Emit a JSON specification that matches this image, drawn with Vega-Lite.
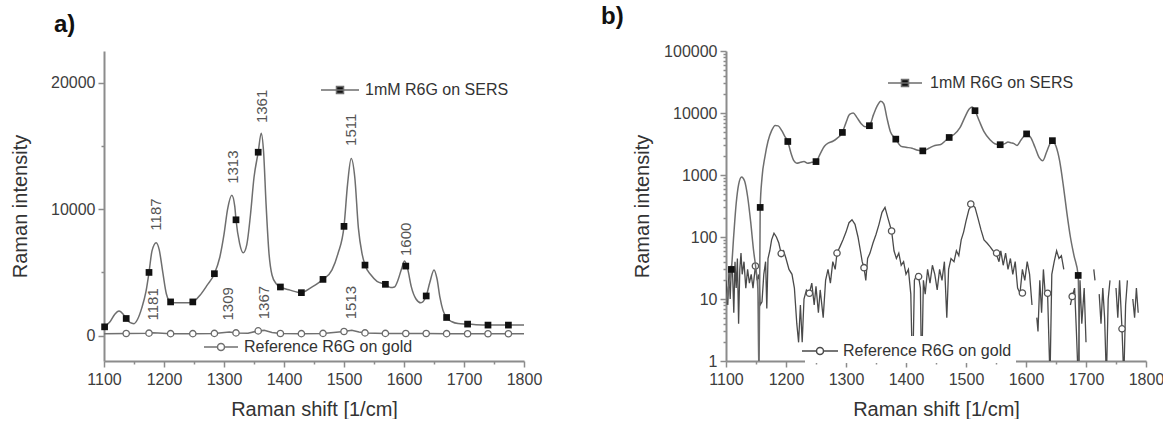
{
  "$schema": "https://vega.github.io/schema/vega-lite/v6.json",
  "background": "white",
  "padding": {"left": 10, "top": 5, "right": 5, "bottom": 0},
  "spacing": 59,
  "config": {
    "view": {"stroke": null},
    "font": "Liberation Sans",
    "axis": {
      "grid": false,
      "domainColor": "#8c8c8c",
      "domainWidth": 2,
      "tickColor": "#8c8c8c",
      "tickWidth": 1.5,
      "labelFont": "Liberation Sans",
      "labelFontSize": 16,
      "labelColor": "#3d3d3d",
      "labelFlush": false,
      "labelOverlap": false,
      "titleFont": "Liberation Sans",
      "titleFontSize": 20,
      "titleFontWeight": "normal",
      "titleColor": "#333333"
    },
    "title": {"fontSize": 24, "fontWeight": "bold", "anchor": "start", "color": "#111111", "frame": "group", "font": "Liberation Sans"},
    "legend": {"labelFont": "Liberation Sans", "labelFontSize": 16, "labelColor": "#333333", "labelLimit": 0}
  },
  "datasets": {
    "a_sers": [
      {"x":1100,"y":700},{"x":1110,"y":1100},{"x":1118,"y":1700},{"x":1125,"y":1950},{"x":1132,"y":1700},{"x":1137,"y":1360},{"x":1143,"y":1050},{"x":1150,"y":950},{"x":1156,"y":1300},{"x":1163,"y":2200},{"x":1170,"y":3500},{"x":1175,"y":5000},{"x":1180,"y":6700},{"x":1187,"y":7350},{"x":1192,"y":6800},{"x":1198,"y":5000},{"x":1204,"y":3300},{"x":1211,"y":2670},{"x":1222,"y":2600},{"x":1236,"y":2600},{"x":1248,"y":2670},{"x":1260,"y":3200},{"x":1272,"y":4000},{"x":1284,"y":4900},{"x":1293,"y":6200},{"x":1300,"y":8000},{"x":1306,"y":10000},{"x":1313,"y":11100},{"x":1318,"y":10200},{"x":1320,"y":9160},{"x":1326,"y":7300},{"x":1332,"y":6550},{"x":1338,"y":7200},{"x":1344,"y":9500},{"x":1350,"y":12500},{"x":1357,"y":14500},{"x":1362,"y":16000},{"x":1366,"y":14500},{"x":1370,"y":10500},{"x":1375,"y":6500},{"x":1380,"y":4800},{"x":1387,"y":4100},{"x":1394,"y":3850},{"x":1410,"y":3600},{"x":1429,"y":3400},{"x":1445,"y":3800},{"x":1465,"y":4450},{"x":1480,"y":5200},{"x":1490,"y":6500},{"x":1500,"y":8640},{"x":1506,"y":12000},{"x":1512,"y":14000},{"x":1518,"y":12500},{"x":1524,"y":8500},{"x":1530,"y":6500},{"x":1535,"y":5580},{"x":1545,"y":4800},{"x":1555,"y":4300},{"x":1569,"y":4060},{"x":1578,"y":3800},{"x":1584,"y":3850},{"x":1590,"y":4400},{"x":1596,"y":5300},{"x":1601,"y":5900},{"x":1606,"y":5300},{"x":1612,"y":3900},{"x":1620,"y":2900},{"x":1628,"y":2600},{"x":1637,"y":3140},{"x":1643,"y":4200},{"x":1650,"y":5200},{"x":1655,"y":4500},{"x":1660,"y":3000},{"x":1665,"y":2000},{"x":1671,"y":1440},{"x":1680,"y":1100},{"x":1690,"y":960},{"x":1706,"y":916},{"x":1720,"y":870},{"x":1740,"y":840},{"x":1760,"y":840},{"x":1774,"y":840},{"x":1790,"y":840},{"x":1800,"y":840}
    ],
    "a_sers_pts": [
      {"x":1101,"y":700},{"x":1137,"y":1360},{"x":1175,"y":5000},{"x":1211,"y":2670},{"x":1248,"y":2670},{"x":1284,"y":4900},{"x":1320,"y":9160},{"x":1357,"y":14500},{"x":1394,"y":3850},{"x":1429,"y":3400},{"x":1465,"y":4450},{"x":1500,"y":8640},{"x":1535,"y":5580},{"x":1569,"y":4060},{"x":1603,"y":5500},{"x":1637,"y":3140},{"x":1671,"y":1440},{"x":1706,"y":916},{"x":1740,"y":838},{"x":1774,"y":838}
    ],
    "a_ref": [
      {"x":1100,"y":160},{"x":1137,"y":170},{"x":1175,"y":200},{"x":1181,"y":230},{"x":1190,"y":210},{"x":1211,"y":160},{"x":1248,"y":160},{"x":1284,"y":180},{"x":1309,"y":300},{"x":1320,"y":220},{"x":1340,"y":200},{"x":1357,"y":380},{"x":1367,"y":420},{"x":1380,"y":260},{"x":1394,"y":170},{"x":1429,"y":160},{"x":1465,"y":180},{"x":1500,"y":330},{"x":1513,"y":420},{"x":1525,"y":300},{"x":1535,"y":220},{"x":1569,"y":180},{"x":1603,"y":170},{"x":1637,"y":170},{"x":1671,"y":160},{"x":1706,"y":150},{"x":1740,"y":150},{"x":1774,"y":150},{"x":1800,"y":150}
    ],
    "a_ref_pts": [
      {"x":1137,"y":170},{"x":1175,"y":200},{"x":1211,"y":160},{"x":1248,"y":160},{"x":1284,"y":180},{"x":1320,"y":220},{"x":1357,"y":380},{"x":1394,"y":170},{"x":1429,"y":160},{"x":1465,"y":180},{"x":1500,"y":330},{"x":1535,"y":220},{"x":1569,"y":180},{"x":1603,"y":170},{"x":1637,"y":170},{"x":1671,"y":160},{"x":1706,"y":150},{"x":1740,"y":150},{"x":1774,"y":150}
    ],
    "a_lab": [
      {"x":1187,"y":8300,"label":"1187"},{"x":1315,"y":12000,"label":"1313"},{"x":1363,"y":16800,"label":"1361"},{"x":1512,"y":15000,"label":"1511"},{"x":1603,"y":6300,"label":"1600"},
      {"x":1181,"y":1200,"label":"1181"},{"x":1307,"y":1200,"label":"1309"},{"x":1366,"y":1300,"label":"1367"},{"x":1511,"y":1300,"label":"1513"}
    ],
    "b_sers": [
      {"x":1100,"y":8},{"x":1104,"y":15},{"x":1109,"y":30},{"x":1113,"y":110},{"x":1117,"y":350},{"x":1121,"y":700},{"x":1126,"y":930},{"x":1131,"y":800},{"x":1136,"y":450},{"x":1141,"y":180},{"x":1146,"y":60},{"x":1150,"y":30},{"x":1153,"y":15},{"x":1155,"y":0.5},{"x":1157,"y":300},{"x":1160,"y":900},{"x":1165,"y":2000},{"x":1170,"y":3500},{"x":1176,"y":5200},{"x":1182,"y":6300},{"x":1187,"y":6200},{"x":1193,"y":5200},{"x":1198,"y":4200},{"x":1203,"y":3470},{"x":1208,"y":2300},{"x":1213,"y":1700},{"x":1218,"y":1550},{"x":1224,"y":1600},{"x":1230,"y":1650},{"x":1236,"y":1550},{"x":1243,"y":1600},{"x":1250,"y":1645},{"x":1257,"y":2200},{"x":1264,"y":2900},{"x":1271,"y":3300},{"x":1278,"y":3500},{"x":1285,"y":3900},{"x":1294,"y":4860},{"x":1300,"y":7000},{"x":1306,"y":9500},{"x":1312,"y":10000},{"x":1318,"y":8500},{"x":1325,"y":6800},{"x":1332,"y":6000},{"x":1339,"y":6240},{"x":1346,"y":9500},{"x":1352,"y":13000},{"x":1358,"y":15500},{"x":1363,"y":14000},{"x":1368,"y":8500},{"x":1374,"y":5000},{"x":1383,"y":3790},{"x":1392,"y":2900},{"x":1400,"y":2800},{"x":1410,"y":2700},{"x":1420,"y":2500},{"x":1428,"y":2450},{"x":1438,"y":2700},{"x":1448,"y":3000},{"x":1458,"y":3100},{"x":1466,"y":3600},{"x":1472,"y":4030},{"x":1480,"y":4500},{"x":1490,"y":5800},{"x":1498,"y":8500},{"x":1505,"y":11500},{"x":1510,"y":12500},{"x":1515,"y":10900},{"x":1522,"y":7500},{"x":1530,"y":5000},{"x":1540,"y":3700},{"x":1548,"y":3200},{"x":1557,"y":3080},{"x":1565,"y":3200},{"x":1570,"y":3400},{"x":1575,"y":3300},{"x":1580,"y":3200},{"x":1585,"y":3000},{"x":1592,"y":3700},{"x":1601,"y":4600},{"x":1608,"y":4000},{"x":1615,"y":2800},{"x":1622,"y":1900},{"x":1628,"y":1700},{"x":1634,"y":2300},{"x":1640,"y":3200},{"x":1644,"y":3580},{"x":1650,"y":2900},{"x":1656,"y":1700},{"x":1662,"y":700},{"x":1668,"y":250},{"x":1674,"y":100},{"x":1680,"y":50},{"x":1687,"y":24},{"x":1689,"y":0.5}
    ],
    "b_sers_pts": [
      {"x":1109,"y":30},{"x":1157,"y":300},{"x":1203,"y":3470},{"x":1250,"y":1645},{"x":1294,"y":4860},{"x":1339,"y":6240},{"x":1383,"y":3790},{"x":1428,"y":2450},{"x":1472,"y":4030},{"x":1515,"y":10900},{"x":1557,"y":3080},{"x":1601,"y":4600},{"x":1644,"y":3580},{"x":1687,"y":24}
    ],
    "b_ref": [
      {"x":1100,"y":20},{"x":1103,"y":8},{"x":1105,"y":30},{"x":1107,"y":10},{"x":1109,"y":35},{"x":1111,"y":25},{"x":1113,"y":6},{"x":1115,"y":40},{"x":1117,"y":15},{"x":1119,"y":45},{"x":1121,"y":4},{"x":1123,"y":30},{"x":1125,"y":55},{"x":1127,"y":25},{"x":1130,"y":40},{"x":1133,"y":15},{"x":1136,"y":30},{"x":1139,"y":18},{"x":1142,"y":25},{"x":1145,"y":15},{"x":1149,"y":34},{"x":1152,"y":20},{"x":1155,"y":25},{"x":1157,"y":8},{"x":1160,"y":9},{"x":1163,"y":25},{"x":1166,"y":40},{"x":1168,"y":7},{"x":1170,"y":45},{"x":1173,"y":60},{"x":1176,"y":90},{"x":1180,"y":115},{"x":1184,"y":100},{"x":1188,"y":80},{"x":1192,"y":54},{"x":1196,"y":60},{"x":1200,"y":45},{"x":1205,"y":30},{"x":1210,"y":25},{"x":1214,"y":15},{"x":1218,"y":4},{"x":1221,"y":2},{"x":1224,"y":8},{"x":1227,"y":2},{"x":1230,"y":10},{"x":1234,"y":14},{"x":1239,"y":12.4},{"x":1243,"y":18},{"x":1247,"y":8},{"x":1250,"y":16},{"x":1254,"y":6},{"x":1257,"y":14},{"x":1262,"y":5},{"x":1266,"y":20},{"x":1270,"y":30},{"x":1274,"y":18},{"x":1278,"y":40},{"x":1282,"y":30},{"x":1285,"y":55},{"x":1290,"y":70},{"x":1295,"y":90},{"x":1300,"y":120},{"x":1305,"y":170},{"x":1310,"y":190},{"x":1315,"y":160},{"x":1320,"y":100},{"x":1324,"y":60},{"x":1327,"y":40},{"x":1330,"y":32},{"x":1333,"y":20},{"x":1336,"y":45},{"x":1340,"y":55},{"x":1345,"y":80},{"x":1350,"y":110},{"x":1355,"y":160},{"x":1360,"y":250},{"x":1365,"y":300},{"x":1370,"y":200},{"x":1376,"y":125},{"x":1380,"y":60},{"x":1384,"y":45},{"x":1388,"y":55},{"x":1392,"y":35},{"x":1396,"y":40},{"x":1400,"y":25},{"x":1404,"y":30},{"x":1408,"y":12},{"x":1411,"y":0.5},{"x":1414,"y":20},{"x":1418,"y":25},{"x":1421,"y":23},{"x":1424,"y":15},{"x":1426,"y":0.5},{"x":1429,"y":20},{"x":1432,"y":12},{"x":1436,"y":30},{"x":1440,"y":18},{"x":1444,"y":35},{"x":1448,"y":25},{"x":1452,"y":14},{"x":1456,"y":30},{"x":1460,"y":20},{"x":1464,"y":40},{"x":1468,"y":5},{"x":1471,"y":30},{"x":1475,"y":45},{"x":1480,"y":40},{"x":1484,"y":60},{"x":1488,"y":50},{"x":1492,"y":90},{"x":1496,"y":120},{"x":1500,"y":180},{"x":1505,"y":280},{"x":1510,"y":330},{"x":1515,"y":300},{"x":1520,"y":200},{"x":1525,"y":130},{"x":1530,"y":90},{"x":1535,"y":80},{"x":1540,"y":70},{"x":1545,"y":60},{"x":1550,"y":55},{"x":1555,"y":40},{"x":1558,"y":60},{"x":1562,"y":35},{"x":1566,"y":55},{"x":1570,"y":30},{"x":1574,"y":45},{"x":1578,"y":25},{"x":1582,"y":40},{"x":1586,"y":15},{"x":1590,"y":12.4},{"x":1594,"y":30},{"x":1598,"y":20},{"x":1602,"y":40},{"x":1606,"y":25},{"x":1610,"y":8},{"x":1613,"y":null},{"x":1618,"y":5},{"x":1620,"y":3},{"x":1623,"y":20},{"x":1626,"y":6},{"x":1629,"y":30},{"x":1632,"y":12},{"x":1636,"y":12},{"x":1640,"y":0.5},{"x":1643,"y":25},{"x":1647,"y":40},{"x":1651,"y":60},{"x":1655,"y":45},{"x":1659,"y":50},{"x":1663,"y":30},{"x":1666,"y":null},{"x":1674,"y":8},{"x":1677,"y":11},{"x":1681,"y":15},{"x":1684,"y":3},{"x":1687,"y":0.5},{"x":1690,"y":20},{"x":1693,"y":4},{"x":1697,"y":15},{"x":1700,"y":2},{"x":1703,"y":null},{"x":1713,"y":30},{"x":1715,"y":20},{"x":1717,"y":null},{"x":1722,"y":12},{"x":1725,"y":4},{"x":1728,"y":15},{"x":1731,"y":5},{"x":1734,"y":0.5},{"x":1737,"y":10},{"x":1740,"y":20},{"x":1743,"y":null},{"x":1750,"y":15},{"x":1753,"y":5},{"x":1756,"y":20},{"x":1760,"y":3.3},{"x":1763,"y":0.5},{"x":1766,"y":8},{"x":1769,"y":20},{"x":1772,"y":null},{"x":1778,"y":10},{"x":1781,"y":5},{"x":1784,"y":15},{"x":1787,"y":6}
    ],
    "b_ref_pts": [
      {"x":1149,"y":34},{"x":1192,"y":54},{"x":1239,"y":12.4},{"x":1285,"y":55},{"x":1330,"y":32},{"x":1376,"y":125},{"x":1421,"y":23},{"x":1508,"y":340},{"x":1551,"y":55},{"x":1594,"y":12.5},{"x":1636,"y":12.4},{"x":1677,"y":11},{"x":1760,"y":3.3}
    ]
  },
  "hconcat": [
    {
      "width": 420,
      "height": 310,
      "title": {"text": "a)", "dx": -50, "offset": 14},
      "encoding": {
        "x": {"field": "x", "type": "quantitative", "title": "Raman shift [1/cm]",
              "scale": {"domain": [1100, 1800], "nice": false, "zero": false},
              "axis": {"values": [1100,1150,1200,1250,1300,1350,1400,1450,1500,1550,1600,1650,1700,1750,1800], "format": "d",
                       "labelExpr": "datum.value % 100 === 0 ? datum.label : ''",
                       "tickSize": {"condition": {"test": "datum.value % 100 === 0", "value": 6}, "value": 3},
                       "labelPadding": 4, "titlePadding": 12}},
        "y": {"field": "y", "type": "quantitative", "title": "Raman intensity",
              "scale": {"domain": [-2000, 22500], "nice": false, "zero": false},
              "axis": {"values": [0, 5000, 10000, 15000, 20000], "format": "d",
                       "labelExpr": "datum.value % 10000 === 0 ? datum.label : ''",
                       "tickSize": {"condition": {"test": "datum.value % 10000 === 0", "value": 6}, "value": 3},
                       "labelPadding": 3, "titlePadding": 20}}
      },
      "layer": [
        {
          "data": {"name": "a_ref"},
          "mark": {"type": "line", "strokeWidth": 1.5, "clip": true},
          "encoding": {
            "stroke": {"datum": "Reference R6G on gold", "type": "nominal", "scale": {"range": ["#707070"]},
                       "legend": {"orient": "none", "legendX": 106, "legendY": 285, "title": null, "padding": 0, "labelLimit": 0,
                                  "symbolType": "M-1.7,0H-0.35M0.35,0H1.7M0.35,0A0.35,0.35,0,1,1,-0.35,0A0.35,0.35,0,1,1,0.35,0Z",
                                  "symbolSize": 400, "symbolStrokeWidth": 1.5, "symbolFillColor": "white", "labelOffset": 12}}
          }
        },
        {
          "data": {"name": "a_ref_pts"},
          "mark": {"type": "point", "shape": "circle", "filled": true, "fill": "white", "stroke": "#6a6a6a", "strokeWidth": 1.3, "size": 40, "opacity": 1}
        },
        {
          "data": {"name": "a_sers"},
          "mark": {"type": "line", "strokeWidth": 1.5, "clip": true, "interpolate": "monotone"},
          "encoding": {
            "stroke": {"datum": "1mM R6G on SERS", "type": "nominal", "scale": {"range": ["#6e6e6e"]},
                       "legend": {"orient": "none", "legendX": 225, "legendY": 28, "title": null, "padding": 0, "labelLimit": 0,
                                  "symbolType": "M-1.9,0H1.9M-0.35,-0.35H0.35V0.35H-0.35Z",
                                  "symbolSize": 400, "symbolStrokeWidth": 1.5, "symbolFillColor": "#111111", "labelOffset": 14}}
          }
        },
        {
          "data": {"name": "a_sers_pts"},
          "mark": {"type": "point", "shape": "square", "filled": true, "color": "#111111", "size": 45, "opacity": 1}
        },
        {
          "data": {"name": "a_lab"},
          "mark": {"type": "text", "angle": 270, "align": "left", "baseline": "middle", "fontSize": 15, "color": "#555555", "font": "Liberation Sans"},
          "encoding": {"text": {"field": "label"}}
        }
      ],
      "resolve": {"scale": {"stroke": "independent"}}
    },
    {
      "width": 420,
      "height": 310,
      "title": {"text": "b)", "dx": -125, "offset": 14},
      "encoding": {
        "x": {"field": "x", "type": "quantitative", "title": "Raman shift [1/cm]",
              "scale": {"domain": [1100, 1800], "nice": false, "zero": false},
              "axis": {"values": [1100,1150,1200,1250,1300,1350,1400,1450,1500,1550,1600,1650,1700,1750,1800], "format": "d",
                       "labelExpr": "datum.value % 100 === 0 ? datum.label : ''",
                       "tickSize": {"condition": {"test": "datum.value % 100 === 0", "value": 6}, "value": 3},
                       "labelPadding": 4, "titlePadding": 12}},
        "y": {"field": "y", "type": "quantitative", "title": "Raman intensity",
              "scale": {"type": "log", "domain": [1, 100000], "nice": false},
              "axis": {"values": [1,2,3,4,5,6,7,8,9,10,20,30,40,50,60,70,80,90,100,200,300,400,500,600,700,800,900,1000,2000,3000,4000,5000,6000,7000,8000,9000,10000,20000,30000,40000,50000,60000,70000,80000,90000,100000],
                       "format": "d",
                       "labelExpr": "indexof(['1','10','100','1000','10000','100000'], datum.label) >= 0 ? datum.label : ''",
                       "tickSize": {"condition": {"test": "indexof([1,10,100,1000,10000,100000], datum.value) >= 0", "value": 6}, "value": 3},
                       "labelPadding": 3, "titlePadding": 11}}
      },
      "layer": [
        {
          "data": {"name": "b_ref"},
          "mark": {"type": "line", "strokeWidth": 1.3, "clip": true},
          "encoding": {
            "stroke": {"datum": "Reference R6G on gold", "type": "nominal", "scale": {"range": ["#4a4a4a"]},
                       "legend": {"orient": "none", "legendX": 79, "legendY": 285, "title": null, "padding": 4, "fillColor": "white", "labelLimit": 0,
                                  "symbolType": "M-1.8,0H-0.35M0.35,0H1.8M0.35,0A0.35,0.35,0,1,1,-0.35,0A0.35,0.35,0,1,1,0.35,0Z",
                                  "symbolSize": 400, "symbolStrokeWidth": 1.5, "symbolFillColor": "white", "labelOffset": 12}}
          }
        },
        {
          "data": {"name": "b_ref_pts"},
          "mark": {"type": "point", "shape": "circle", "filled": true, "fill": "white", "stroke": "#555555", "strokeWidth": 1.3, "size": 40, "opacity": 1}
        },
        {
          "data": {"name": "b_sers"},
          "mark": {"type": "line", "strokeWidth": 1.5, "clip": true, "interpolate": "monotone"},
          "encoding": {
            "stroke": {"datum": "1mM R6G on SERS", "type": "nominal", "scale": {"range": ["#6e6e6e"]},
                       "legend": {"orient": "none", "legendX": 168, "legendY": 21, "title": null, "padding": 0, "labelLimit": 0,
                                  "symbolType": "M-1.7,0H1.7M-0.35,-0.35H0.35V0.35H-0.35Z",
                                  "symbolSize": 400, "symbolStrokeWidth": 1.5, "symbolFillColor": "#111111", "labelOffset": 14}}
          }
        },
        {
          "data": {"name": "b_sers_pts"},
          "mark": {"type": "point", "shape": "square", "filled": true, "color": "#111111", "size": 45, "opacity": 1}
        }
      ],
      "resolve": {"scale": {"stroke": "independent"}}
    }
  ]
}
